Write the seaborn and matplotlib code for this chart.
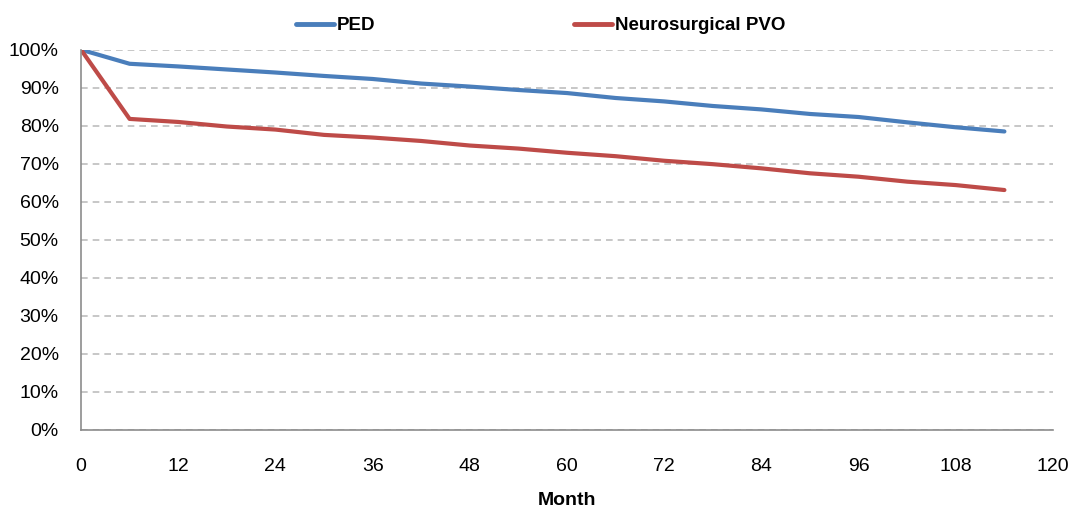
import numpy as np
import pandas as pd
import matplotlib
matplotlib.use("Agg")
import matplotlib.pyplot as plt
import seaborn as sns
from matplotlib.ticker import FuncFormatter, MultipleLocator

months = [0, 6, 12, 18, 24, 30, 36, 42, 48, 54, 60, 66, 72, 78, 84, 90, 96, 102, 108, 114]
ped = [100, 96.3, 95.6, 94.8, 94.0, 93.1, 92.3, 91.1, 90.3, 89.4, 88.6, 87.3, 86.4, 85.2,
       84.3, 83.1, 82.3, 80.9, 79.6, 78.5]
pvo = [100, 81.8, 81.0, 79.8, 79.0, 77.6, 76.9, 76.0, 74.8, 74.0, 72.9, 72.0, 70.8, 69.9,
       68.8, 67.5, 66.6, 65.3, 64.4, 63.1]
series_names = ["PED", "Neurosurgical PVO"]
colors = ["#4A7EBB", "#BE4B48"]

df = pd.concat([
    pd.DataFrame({"Month": months, "Value": ped, "Series": series_names[0]}),
    pd.DataFrame({"Month": months, "Value": pvo, "Series": series_names[1]}),
])

sns.set_style("white")
plt.rcParams["font.family"] = ["Liberation Sans", "DejaVu Sans"]
plt.rcParams["text.color"] = "black"
plt.rcParams["axes.labelcolor"] = "black"

fig = plt.figure(figsize=(10.79, 5.11), dpi=100)
ax = fig.add_axes([81 / 1079, 1 - 430 / 511, (1053 - 81) / 1079, (430 - 49.7) / 511])

sns.lineplot(data=df, x="Month", y="Value", hue="Series", palette=colors,
             hue_order=series_names, linewidth=3, ax=ax, legend=True)

ax.set_xlim(0, 120)
ax.set_ylim(0, 100)
ax.xaxis.set_major_locator(MultipleLocator(12))
ax.yaxis.set_major_locator(MultipleLocator(10))
ax.yaxis.set_major_formatter(FuncFormatter(lambda v, p: f"{v:.0f}%"))
ax.grid(axis="y", linestyle=(0, (4, 3)), color="#BEBEBE", linewidth=1.2)
ax.grid(axis="x", visible=False)
ax.set_axisbelow(True)

for s in ["top", "right"]:
    ax.spines[s].set_visible(False)
for s in ["left", "bottom"]:
    ax.spines[s].set_color("#8C8C8C")
    ax.spines[s].set_linewidth(1.2)

ax.tick_params(axis="both", which="major", direction="out", length=5, width=1.2,
               color="#8C8C8C", labelsize=14, labelcolor="black")
ax.tick_params(axis="x", pad=15)
ax.tick_params(axis="y", pad=11)
ax.set_ylabel("")
ax.set_xlabel("Month", fontsize=14, fontweight="bold", labelpad=12.5, color="black")

handles, labels = ax.get_legend_handles_labels()
leg = ax.legend(handles, labels, loc="upper center", bbox_to_anchor=(0.473, 1.13), ncol=2,
                frameon=False, handlelength=2.0, handletextpad=0.16, columnspacing=10.6,
                prop={"weight": "bold", "size": 13.5})
for line in leg.get_lines():
    line.set_linewidth(3.5)
for t in leg.get_texts():
    t.set_color("black")

fig.savefig("out.png", dpi=100)
